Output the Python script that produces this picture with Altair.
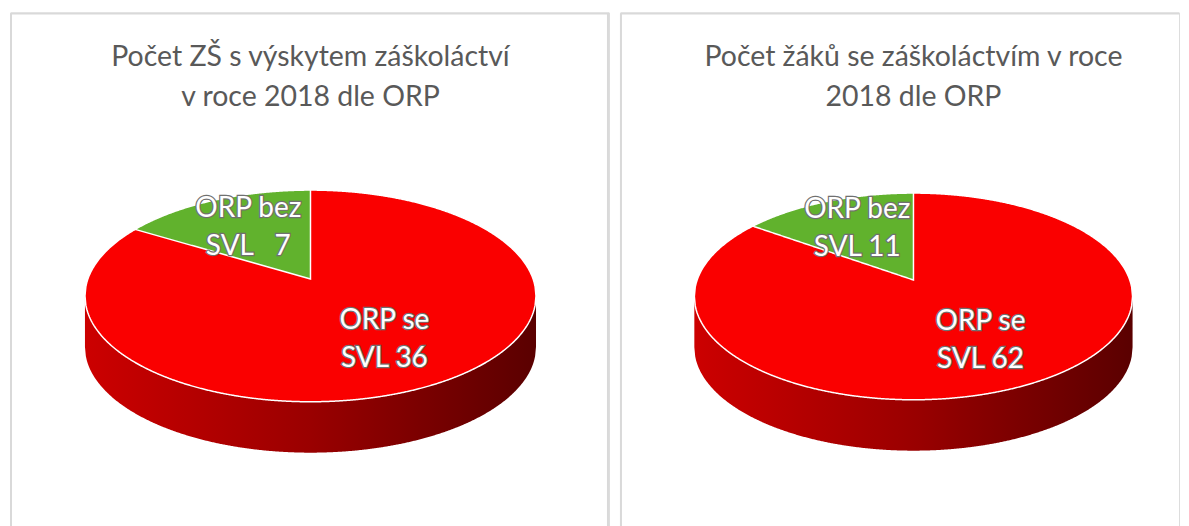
import numpy as np
import pandas as pd
import altair as alt

# ---------------- data ----------------
categories = ["ORP se SVL", "ORP bez SVL"]
schools_values = [36, 7]
pupils_values = [62, 11]
schools_labels = ["ORP se\nSVL 36", "ORP bez\nSVL\u00a0\u00a0\u00a07"]
pupils_labels = ["ORP se\nSVL 62", "ORP bez\nSVL 11"]
schools_title = "Počet ZŠ s výskytem záškoláctví\nv roce 2018 dle ORP"
pupils_title = "Počet žáků se záškoláctvím v roce\n2018 dle ORP"

# ---------------- style ----------------
TOP_COLORS = ["#FA0000", "#61B22D"]
SIDE_DARK = "#5A0000"
SIDE_LIGHT = "#CC0000"
BORDER = "#D9D9D9"
TITLE_COLOR = "#595959"
FONT = "Lato"
H = 520
LAB_LH = 38


def make_panel(values, labels, title, W, cx, cy, rx, ry, k, depth):
    total = float(sum(values))
    shares = [v / total for v in values]

    def proj(f, th):
        X = f * np.sin(th)
        Z = f * np.cos(th)
        s = 1.0 / (1.0 + k * Z)
        return cx + rx * X * s, cy - ry * Z * s

    th_r = np.arccos(-k)
    th_l = 2 * np.pi - th_r
    # upper (back) rim and lower (front) rim of the top surface
    t_up = np.linspace(th_l, th_r + 2 * np.pi, 600)
    ux, uy = proj(1.0, t_up)
    t_lo = np.linspace(th_r, th_l, 600)
    lx, ly = proj(1.0, t_lo)
    o = np.argsort(ux); ux, uy = ux[o], uy[o]
    o = np.argsort(lx); lx, ly = lx[o], ly[o]
    xs = np.linspace(max(ux.min(), lx.min()), min(ux.max(), lx.max()), 500)
    yu = np.interp(xs, ux, uy)
    yl = np.interp(xs, lx, ly)

    top_df = pd.DataFrame({"x": xs, "y": yu, "y2": yl, "cat": categories[0]})
    side_df = pd.DataFrame({"x": xs, "y": yl, "y2": yl + depth})

    # second slice (drawn at the end of the clockwise sweep)
    th0 = 2 * np.pi * shares[0]
    ex, ey = proj(1.0, th0)
    gx = np.linspace(ex, cx, 200)
    gy_top = np.interp(gx, ux, uy)
    gy_bot = ey + (cy - ey) * (gx - ex) / (cx - ex)
    wedge_df = pd.DataFrame({"x": gx, "y": gy_top, "y2": gy_bot, "cat": categories[1]})

    # labels at slice mid-angles
    mids = [np.pi * shares[0], th0 + np.pi * shares[1]]
    lab_x, lab_y = [], []
    for m in mids:
        px, py = proj(0.62, m)
        lab_x.append(px); lab_y.append(py)
    lab_df = pd.DataFrame({"x": lab_x, "y": lab_y, "label": labels})

    xsc = alt.Scale(domain=[0, W], nice=False, zero=False)
    ysc = alt.Scale(domain=[0, H], nice=False, zero=False, reverse=True)
    X = alt.X("x:Q", scale=xsc, axis=None)
    Y = alt.Y("y:Q", scale=ysc, axis=None)

    grad = alt.Gradient(
        gradient="linear",
        stops=[alt.GradientStop(color=SIDE_LIGHT, offset=0),
               alt.GradientStop(color="#9A0000", offset=0.5),
               alt.GradientStop(color=SIDE_DARK, offset=1)],
        x1=0, x2=1, y1=0, y2=0)

    side = alt.Chart(side_df).mark_area(fill=grad, stroke=None).encode(x=X, y=Y, y2="y2:Q")
    top = alt.Chart(top_df).mark_area(fill=TOP_COLORS[0], stroke="white", strokeWidth=1.5).encode(
        x=X, y=Y, y2="y2:Q")
    wedge = alt.Chart(wedge_df).mark_area(fill=TOP_COLORS[1], stroke="white", strokeWidth=1.5).encode(
        x=X, y=Y, y2="y2:Q")

    txt_kw = dict(font=FONT, fontSize=28, lineBreak="\n", lineHeight=LAB_LH,
                  align="center", baseline="middle", dy=-LAB_LH / 2)
    lab_outline = alt.Chart(lab_df).mark_text(fill="#707070", stroke="#707070", strokeWidth=2.4,
                                              **txt_kw).encode(x=X, y=Y, text="label:N")
    lab_text = alt.Chart(lab_df).mark_text(fill="white", **txt_kw).encode(x=X, y=Y, text="label:N")

    title_df = pd.DataFrame({"t": [title]})
    ttl = alt.Chart(title_df).mark_text(font=FONT, fontSize=28.5, lineBreak="\n", lineHeight=40,
                                        align="center", baseline="alphabetic",
                                        color=TITLE_COLOR).encode(
        x=alt.value(cx), y=alt.value(54), text="t:N")

    rules_df = pd.DataFrame({"r": [0]})
    bl = alt.Chart(rules_df).mark_rule(color=BORDER, strokeWidth=2).encode(
        x=alt.value(1), y=alt.value(1), y2=alt.value(H))
    bt = alt.Chart(rules_df).mark_rule(color=BORDER, strokeWidth=2).encode(
        x=alt.value(1), x2=alt.value(W), y=alt.value(1))
    return [side, top, wedge, lab_outline, lab_text, ttl, bl, bt]


left_layers = make_panel(schools_values, schools_labels, schools_title,
                         600, 301, 267, 223, 103.3, 0.16, 51)
# right border of the left panel
left_layers.append(alt.Chart(pd.DataFrame({"r": [0]})).mark_rule(color=BORDER, strokeWidth=2).encode(
    x=alt.value(599), y=alt.value(1), y2=alt.value(H)))
left = alt.layer(*left_layers).properties(width=600, height=H)

right_layers = make_panel(pupils_values, pupils_labels, pupils_title,
                          560, 294, 268, 216.7, 100.9, 0.159, 51)
right = alt.layer(*right_layers).properties(width=560, height=H)

chart = alt.hconcat(left, right, spacing=8).properties(
    padding={"left": 1, "top": 3, "right": 0, "bottom": 0}
).configure_view(strokeWidth=0).configure(background="white")

chart.save("out.html", embed_options={"renderer": "svg", "actions": False})
